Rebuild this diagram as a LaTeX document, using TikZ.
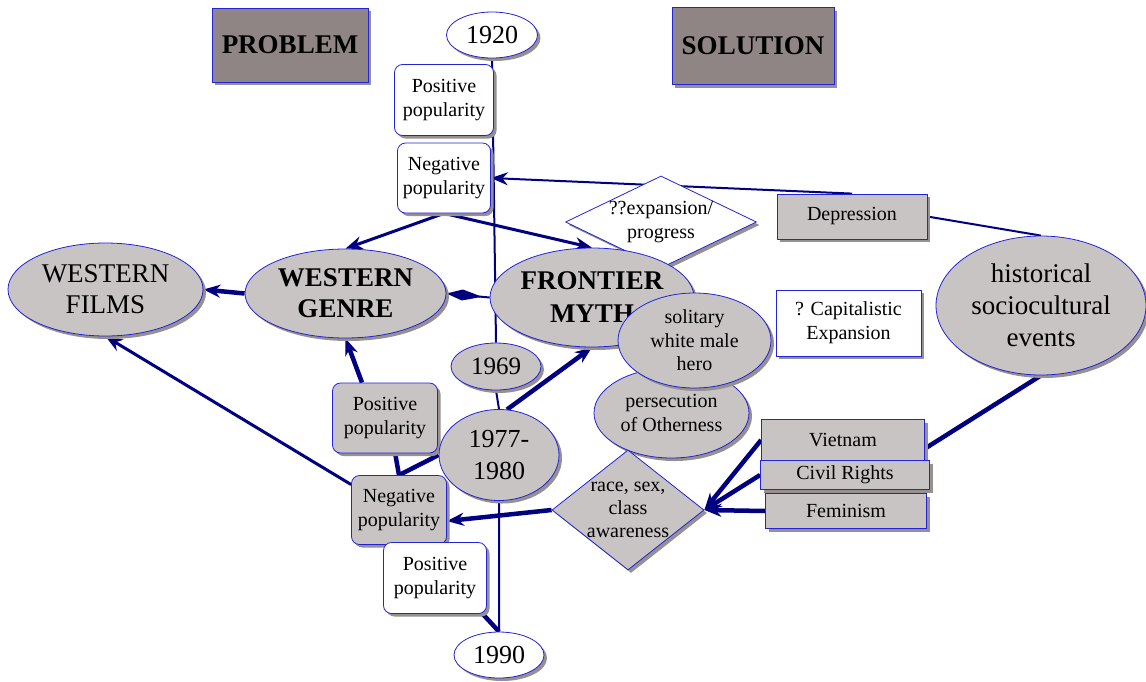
\documentclass[tikz,border=0pt]{standalone}
\usepackage{fontspec}
\setmainfont{Liberation Serif}
\usepackage{tikz}
\usetikzlibrary{shapes.geometric,shadows,arrows.meta,backgrounds}

\definecolor{linkblue}{RGB}{0,0,128}
\definecolor{edgeblue}{RGB}{35,35,215}
\definecolor{nodegray}{RGB}{200,196,196}
\definecolor{titlegray}{RGB}{143,133,132}
\definecolor{shadowgray}{RGB}{150,144,144}

\newcommand{\smalltxt}{\fontsize{20}{24}\selectfont}
\newcommand{\bigtxt}{\fontsize{27}{33}\selectfont}
\newcommand{\yeartxt}{\fontsize{26}{32}\selectfont}

\begin{document}
\begin{tikzpicture}[x=1pt,y=-1pt,
    every shadow/.style={fill=shadowgray,opacity=1},
    mapshape/.style={draw=edgeblue,line width=0.8pt,inner sep=0pt,align=center,
        drop shadow={shadow xshift=3pt,shadow yshift=-3pt}},
    box/.style={mapshape,rectangle,fill=nodegray,font=\smalltxt},
    wbox/.style={box,fill=white},
    rbox/.style={box,rounded corners=8pt},
    wrbox/.style={rbox,fill=white},
    oval/.style={mapshape,ellipse,fill=nodegray,font=\smalltxt},
    wyear/.style={oval,fill=white,font=\yeartxt},
    diam/.style={mapshape,diamond,fill=nodegray},
    title/.style={mapshape,rectangle,fill=titlegray,font=\bfseries\bigtxt},
    link/.style={draw=linkblue,line width=2pt},
    heavy/.style={draw=linkblue,line width=4.5pt},
    tip/.style={-{Stealth[length=17pt,width=13pt]}}]

\useasboundingbox (0,0) rectangle (1146,681);

\node[title,minimum width=156pt,minimum height=74pt] (problem) at (290,45) {PROBLEM};
\node[title,minimum width=162pt,minimum height=77pt] (solution) at (753,46) {SOLUTION};

\node[wyear,minimum width=91pt,minimum height=46pt] (yr20) at (492,35) {1920};
\node[wrbox,minimum width=99pt,minimum height=71pt] (postop) at (444,100) {Positive\\popularity};
\node[wrbox,minimum width=93pt,minimum height=70pt] (negtop) at (444,178) {Negative\\popularity};

\node[diam,fill=white,minimum width=191pt,minimum height=92pt,
    label={[font=\smalltxt,align=center]center:{??expansion/\\progress}}] (expand) at (661,222) {};
\node[box,minimum width=150pt,minimum height=45pt] (depr) at (852,216.5) {Depression};
\node[wbox,minimum width=145pt,minimum height=66pt] (capit) at (848.5,323) {? Capitalistic\\Expansion};
\node[oval,font=\fontsize{27}{32}\selectfont,minimum width=210pt,minimum height=139pt] (hist) at (1041,305.5) {historical\\sociocultural\\events};

\node[oval,font=\fontsize{27}{31}\selectfont,minimum width=195pt,minimum height=93pt] (films) at (105.5,289.5) {WESTERN\\FILMS};
\node[oval,font=\bfseries\fontsize{27}{31}\selectfont,minimum width=201pt,minimum height=89pt] (genre) at (345.5,293.5) {WESTERN\\GENRE};
\node[oval,font=\bfseries\fontsize{27}{33}\selectfont,minimum width=204pt,minimum height=99pt] (myth) at (592,297.5) {FRONTIER\\MYTH};

\node[oval,font=\fontsize{25}{30}\selectfont,minimum width=90pt,minimum height=47pt] (yr69) at (496,366.5) {1969};
\node[oval,minimum width=155pt,minimum height=90pt] (other) at (671.5,413) {persecution\\of Otherness};
\node[oval,font=\fontsize{20}{23.5}\selectfont,minimum width=153pt,minimum height=95pt] (hero) at (694.5,340.5) {solitary\\white male\\hero};

\node[rbox,minimum width=105pt,minimum height=70pt] (posmid) at (385,418) {Positive\\popularity};
\node[oval,font=\yeartxt,minimum width=120pt,minimum height=91pt] (yr77) at (499,455) {1977-\\1980};
\node[rbox,minimum width=95pt,minimum height=69pt] (negmid) at (399,510) {Negative\\popularity};

\node[diam,minimum width=152pt,minimum height=120pt,
    label={[font=\fontsize{20}{23}\selectfont,align=center]center:{race, sex,\\class\\awareness}}] (aware) at (628,510) {};
\node[box,minimum width=163pt,minimum height=41pt] (viet) at (843,440) {Vietnam};
\node[box,minimum width=169pt,minimum height=29pt] (civil) at (845,475) {Civil Rights};
\node[box,minimum width=161pt,minimum height=35pt] (femin) at (846,511) {Feminism};

\node[wrbox,minimum width=103pt,minimum height=71pt] (posbot) at (435,578) {Positive\\popularity};
\node[wyear,minimum width=90pt,minimum height=46pt] (yr90) at (499,655) {1990};

\begin{scope}[on background layer]
\fill[white] (0,0) rectangle (1146,681);
% time line
\draw[link] (yr20.south) -- (yr69.north)
            (yr69.south) -- (yr77.north)
            (yr77.south) -- (yr90.north);

\draw[link,tip] (depr.north) -- (negtop.east);
\draw[link] (depr.east) -- (hist.north);
\draw[link,line width=3pt,tip] (negtop.south) -- (genre.north);
\draw[link,line width=3pt,tip] (negtop.south) -- (myth.north);
\draw[heavy,tip] (genre.west) -- (films.east);
\draw[link,-{Kite[length=36pt,width=11pt,inset=20pt]}] (myth.west) -- (genre.east);
\draw[heavy,tip] (posmid.123) -- (genre.south);
\draw[heavy] (posmid.286) -- (negmid.north);
\draw[heavy] (yr77.west) -- (negmid.north);
\draw[heavy,tip] (yr77.80) -- (myth.south);
\draw[link,line width=3pt,tip] (negmid.152) -- (films.south);
\draw[heavy,tip] (aware.west) -- (negmid.-13);
\draw[heavy,tip] (viet.west) -- (aware.east);
\draw[heavy,tip] (civil.west) -- (aware.east);
\draw[heavy,tip] (femin.west) -- (aware.east);
\draw[heavy] (hist.south) -- (viet.-6);
\draw[heavy] (posbot.-37) -- (yr90.north);
\end{scope}
\end{tikzpicture}
\end{document}
